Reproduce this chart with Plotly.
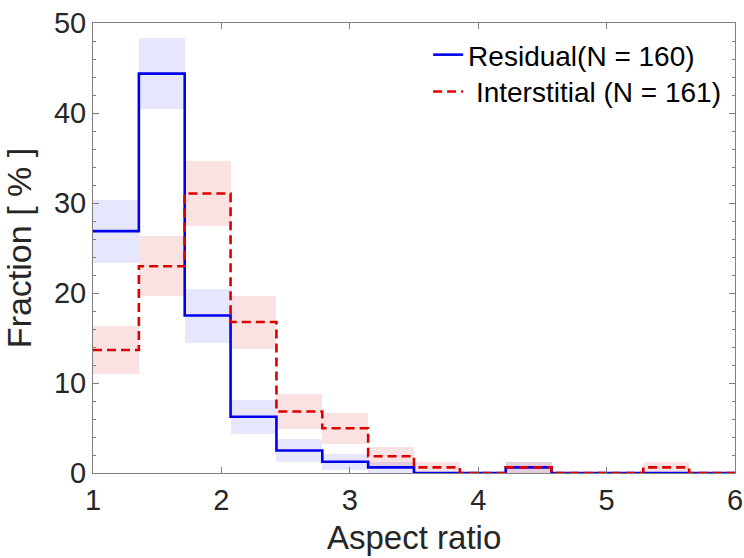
import numpy as np
import plotly.graph_objects as go

# Histogram of aspect ratio, 14 equal bins between 1 and 6
edge_lo, edge_hi, n_bins = 1.0, 6.0, 14
edges = np.linspace(edge_lo, edge_hi, n_bins + 1)
centers = (edges[:-1] + edges[1:]) / 2
width = edges[1] - edges[0]

# Residual (N = 160): fraction per bin [%] and its uncertainty band
residual_frac = [26.875, 44.375, 17.5, 6.25, 2.5, 1.25, 0.625, 0, 0, 0.625, 0, 0, 0, 0]
residual_lo = [23.37, 40.45, 14.50, 4.34, 1.27, 0.37, 0.0, 0, 0, 0.0, 0, 0, 0, 0]
residual_hi = [30.38, 48.30, 20.50, 8.16, 3.73, 2.13, 1.25, 0, 0, 1.25, 0, 0, 0, 0]

# Interstitial (N = 161)
inter_frac = [13.66, 22.98, 31.06, 16.77, 6.83, 4.97, 1.86, 0.62, 0, 0.62, 0, 0, 0.62, 0]
inter_lo = [10.96, 19.67, 27.41, 13.83, 4.85, 3.26, 0.80, 0.0, 0, 0.0, 0, 0, 0.0, 0]
inter_hi = [16.37, 26.30, 34.71, 19.71, 8.82, 6.68, 2.93, 1.24, 0, 1.24, 0, 0, 1.24, 0]

FONT = "Liberation Sans, Arial, sans-serif"
fig = go.Figure()

# Shaded uncertainty bands
fig.add_trace(go.Bar(
    x=centers, base=residual_lo,
    y=[h - l for h, l in zip(residual_hi, residual_lo)],
    width=width, marker=dict(color="rgba(60,60,230,0.13)", line=dict(width=0)),
    showlegend=False, hoverinfo="skip"))
fig.add_trace(go.Bar(
    x=centers, base=inter_lo,
    y=[h - l for h, l in zip(inter_hi, inter_lo)],
    width=width, marker=dict(color="rgba(230,60,60,0.15)", line=dict(width=0)),
    showlegend=False, hoverinfo="skip"))

# Step outlines
fig.add_trace(go.Scatter(
    x=edges, y=residual_frac + [residual_frac[-1]], mode="lines", line_shape="hv",
    line=dict(color="#0000ee", width=2.6), name="Residual(N = 160)",
    legend="legend"))
fig.add_trace(go.Scatter(
    x=edges, y=inter_frac + [inter_frac[-1]], mode="lines", line_shape="hv",
    line=dict(color="#dd0000", width=2.6, dash="9px,5px"),
    name=" Interstitial (N = 161)", legend="legend2"))

axis_common = dict(
    showline=True, linecolor="#7f7f7f", linewidth=1, mirror="ticks",
    ticks="inside", ticklen=6, tickcolor="#7f7f7f", showgrid=False, zeroline=False,
    automargin=False,
    tickfont=dict(family=FONT, size=29, color="#262626"),
)

legend_common = dict(
    x=0.522, xanchor="left", yanchor="middle",
    bgcolor="rgba(255,255,255,0)", itemwidth=30,
    font=dict(family=FONT, size=28, color="#000000"),
)

fig.update_layout(
    width=744, height=558,
    margin=dict(l=93, r=9, t=23, b=85),
    paper_bgcolor="white", plot_bgcolor="white",
    barmode="overlay", bargap=0,
    font=dict(family=FONT, color="#262626"),
    xaxis=dict(range=[1, 6], dtick=1, tick0=1, ticklabelstandoff=1,
               **axis_common),
    yaxis=dict(range=[0, 50], dtick=10, tick0=0, ticklabelstandoff=0,
               minor=dict(dtick=2, ticks="inside", ticklen=3, tickcolor="#7f7f7f"),
               title=dict(text="Fraction [ % ]", standoff=14,
                          font=dict(size=34, color="#262626")),
               **axis_common),
    legend=dict(y=0.929, **legend_common),
    legend2=dict(y=0.847, **legend_common),
)

# x-axis title placed low, just above the lower edge of the figure
fig.add_annotation(
    text="Aspect ratio", xref="paper", yref="paper", x=0.5, y=-0.097,
    xanchor="center", yanchor="top", showarrow=False,
    font=dict(family=FONT, size=33, color="#262626"))

fig.write_html("out.html")
